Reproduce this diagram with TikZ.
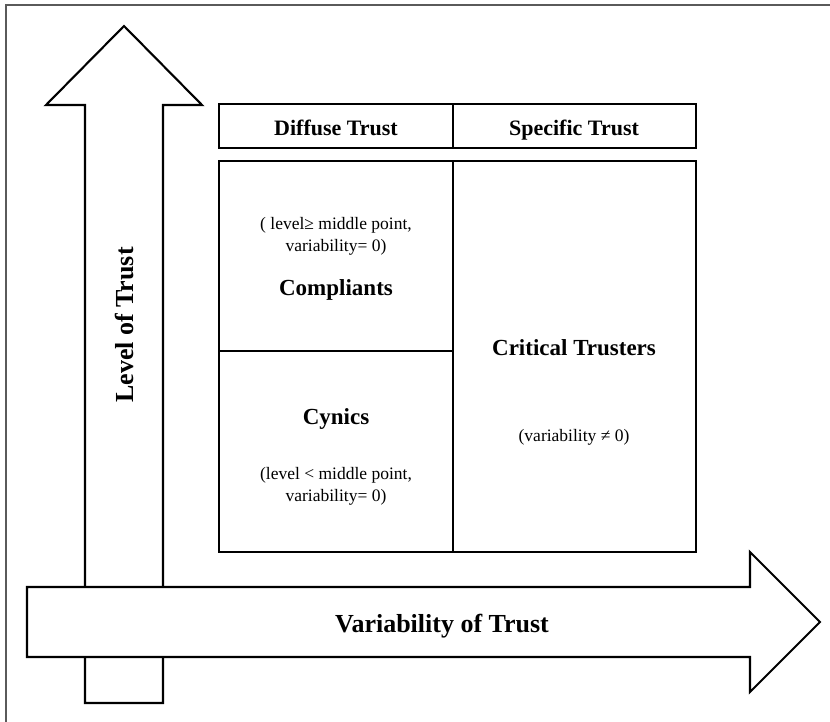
\documentclass[tikz,border=0pt]{standalone}
\usepackage{fontspec}
\setmainfont{Liberation Serif}

\begin{document}
\begin{tikzpicture}[
    x=1pt, y=-1pt,
    every node/.style={
        align=center,
        inner sep=0pt
    },
    box/.style={draw, line width=2.1pt},
    bigarrow/.style={draw, fill=white, line width=2.1pt, line join=miter},
    header/.style={font=\fontsize{22}{26}\selectfont\bfseries},
    group/.style={font=\fontsize{23}{27}\selectfont\bfseries},
    cond/.style={font=\fontsize{17.5}{22}\selectfont},
    axis/.style={font=\fontsize{26}{30}\selectfont\bfseries}
]

\useasboundingbox (0,0) rectangle (830,722);

% frame
\definecolor{frameGray}{RGB}{90,90,90}
\draw[frameGray, line width=1.5pt] (830,5) -- (6,5) -- (6,722);

% level of trust (vertical arrow)
\draw[bigarrow] (124,26) -- (202,105) -- (163,105) -- (163,703)
    -- (85,703) -- (85,105) -- (46,105) -- cycle;
\node[axis, rotate=90, anchor=base] (level) at (133,325) {Level of Trust};

% variability of trust (horizontal arrow)
\draw[bigarrow] (27,587) -- (750,587) -- (750,552) -- (820,622)
    -- (750,692) -- (750,657) -- (27,657) -- cycle;
\node[axis, anchor=base] (variability) at (442,632) {Variability of Trust};

% header row
\draw[box] (219,104) rectangle (696,148);
\draw[box] (453,104) -- (453,148);
\node[header, anchor=base] (diffuse) at (336,136) {Diffuse Trust};
\node[header, anchor=base] (specific) at (574,136) {Specific Trust};

% cells
\draw[box] (219,161) rectangle (696,552);
\draw[box] (453,161) -- (453,552);
\draw[box] (219,351) -- (453,351);

\node[cond] (compcond) at (336,236) {( level≥ middle point,\\variability= 0)};
\node[group, anchor=base] (compliants) at (336,295) {Compliants};

\node[group, anchor=base] (cynics) at (336,424) {Cynics};
\node[cond] (cyncond) at (336,486) {(level < middle point,\\variability= 0)};

\node[group, anchor=base] (critical) at (574,355) {Critical Trusters};
\node[cond, anchor=base] (critcond) at (574,441) {(variability ≠ 0)};

\end{tikzpicture}
\end{document}
